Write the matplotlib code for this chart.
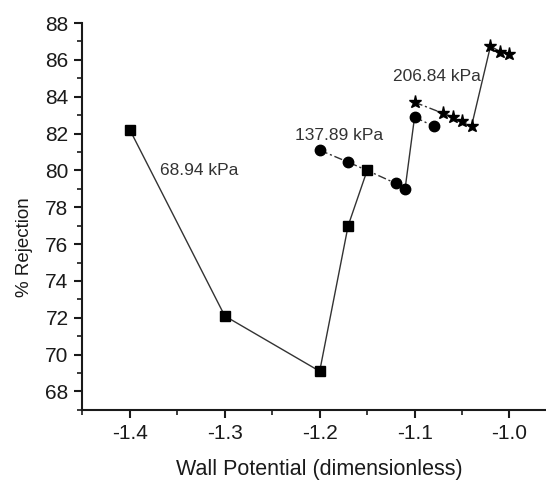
import matplotlib
matplotlib.use("Agg")
import matplotlib.pyplot as plt
from matplotlib.ticker import MultipleLocator, FormatStrFormatter

plt.rcParams['font.family'] = ['Liberation Sans', 'DejaVu Sans']
plt.rcParams['axes.unicode_minus'] = False

# 68.94 kPa run (squares)
sq_x = [-1.40, -1.30, -1.20, -1.17, -1.15]
sq_y = [82.2, 72.1, 69.1, 77.0, 80.0]

# 137.89 kPa run (circles); third point is shared with the square run
ci_x = [-1.20, -1.17, -1.15, -1.12, -1.11, -1.10, -1.08]
ci_y = [81.1, 80.45, 80.0, 79.3, 79.0, 82.9, 82.4]

# 206.84 kPa run (stars)
st_x = [-1.10, -1.07, -1.06, -1.05, -1.04, -1.02, -1.01, -1.00]
st_y = [83.7, 83.1, 82.9, 82.7, 82.4, 86.75, 86.45, 86.3]

labels = ['68.94 kPa', '137.89 kPa', '206.84 kPa']
label_pos = [(-1.368, 80.0), (-1.226, 81.9), (-1.123, 85.1)]

fig = plt.figure(figsize=(5.46, 4.8), dpi=100)
# the x axis runs on past the right edge of the figure
ax = fig.add_axes([0.151, 0.146, 0.869, 0.806])

lc = '#333333'
dash = (0, (6, 2, 1.5, 2))

# squares: solid line
ax.plot(sq_x, sq_y, color=lc, lw=1.0, zorder=2)
ax.plot(sq_x, sq_y, ls='none', marker='s', ms=7.5, color='black', zorder=4)

# circles: dash-dot within the run, solid jump up to the next level
ax.plot(ci_x[:5], ci_y[:5], color=lc, lw=1.0, ls=dash, zorder=2)
ax.plot(ci_x[4:6], ci_y[4:6], color=lc, lw=1.0, zorder=2)
ax.plot(ci_x[5:], ci_y[5:], color=lc, lw=1.0, ls=dash, zorder=2)
ci_mx = ci_x[:2] + ci_x[3:]
ci_my = ci_y[:2] + ci_y[3:]
ax.plot(ci_mx, ci_my, ls='none', marker='o', ms=7.5, color='black', zorder=3)

# stars
ax.plot(st_x[:5], st_y[:5], color=lc, lw=1.0, ls=dash, zorder=2)
ax.plot(st_x[4:6], st_y[4:6], color=lc, lw=1.0, zorder=2)
ax.plot(st_x[5:], st_y[5:], color=lc, lw=1.0, zorder=2)
ax.plot(st_x, st_y, ls='none', marker='*', ms=9.5, color='black', zorder=3)

for txt, (tx, ty) in zip(labels, label_pos):
    ax.text(tx, ty, txt, fontsize=12.5, color='#333333', ha='left', va='center')

ax.set_xlim(-1.45, -0.95)
ax.set_ylim(67, 88)
ax.xaxis.set_major_locator(MultipleLocator(0.1))
ax.xaxis.set_minor_locator(MultipleLocator(0.05))
ax.xaxis.set_major_formatter(FormatStrFormatter('%.1f'))
ax.yaxis.set_major_locator(MultipleLocator(2))
ax.yaxis.set_minor_locator(MultipleLocator(1))

for side in ('top', 'right'):
    ax.spines[side].set_visible(False)
for side in ('left', 'bottom'):
    ax.spines[side].set_linewidth(1.5)
    ax.spines[side].set_color('#1a1a1a')

ax.tick_params(which='major', direction='out', length=6, width=1.5,
               labelsize=15, colors='#1a1a1a', pad=4)
ax.tick_params(which='minor', direction='out', length=3.5, width=1.2,
               colors='#1a1a1a')

ax.set_xlabel('Wall Potential (dimensionless)', fontsize=15.5, color='#1a1a1a', labelpad=12)
ax.set_ylabel('% Rejection', fontsize=13.5, color='#1a1a1a')
ax.yaxis.set_label_coords(-0.105, 0.42)

fig.savefig('out.png', dpi=100)
